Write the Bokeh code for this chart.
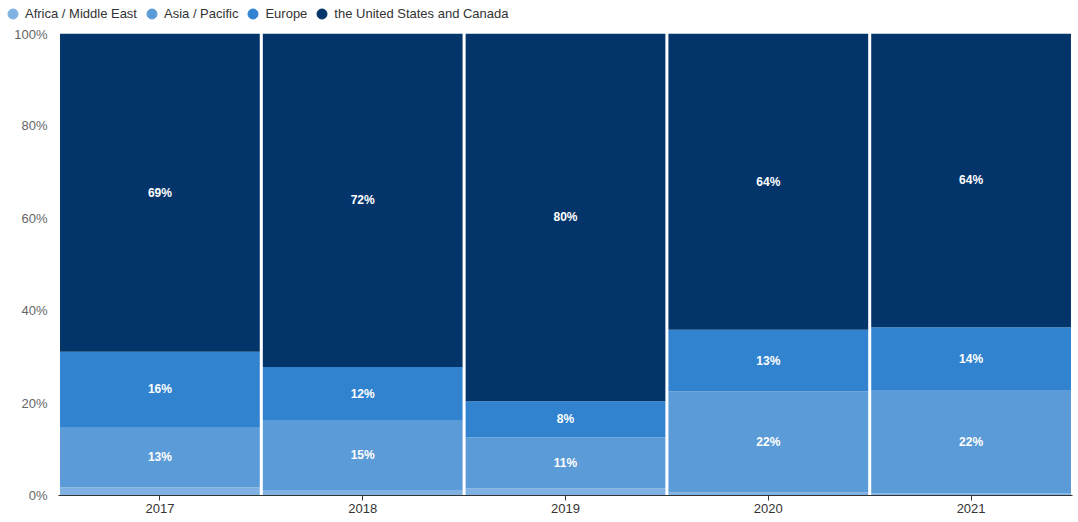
from bokeh.plotting import figure
from bokeh.models import (ColumnDataSource, Legend, LegendItem, FactorRange,
                          FixedTicker, CustomJSTickFormatter, LabelSet, Range1d)
from bokeh.layouts import column
from bokeh.core.properties import value
from bokeh.embed import file_html
from bokeh.resources import INLINE

years = ["2017", "2018", "2019", "2020", "2021"]
africa = [1.8, 1.2, 1.5, 0.7, 0.5]
asia = [13.0, 15.0, 11.1, 21.8, 22.2]
europe = [16.3, 11.6, 7.8, 13.4, 13.7]
us = [68.9, 72.2, 79.6, 64.1, 63.6]
series_names = ["Africa / Middle East", "Asia / Pacific", "Europe",
                "the United States and Canada"]
colors = ["#7fb2e2", "#5b9bd7", "#3183d0", "#03356a"]
y_ticks = [0, 20, 40, 60, 80, 100]

keys = ["africa", "asia", "europe", "us"]
raw = {"africa": africa, "asia": asia, "europe": europe, "us": us}
totals = [sum(raw[k][i] for k in keys) for i in range(len(years))]
data = {"year": years}
for k in keys:
    data[k] = [raw[k][i] / totals[i] * 100 for i in range(len(years))]
src = ColumnDataSource(data)

FONT = "Liberation Sans"

# ---- legend strip ----
lg = figure(width=1076, height=26, output_backend="svg",
            toolbar_location=None, x_range=Range1d(0, 1), y_range=Range1d(0, 1),
            min_border_left=0, min_border_right=0, min_border_top=0,
            min_border_bottom=0)
lg.frame_align = False
lg.axis.visible = False
lg.grid.visible = False
lg.outline_line_color = None
items = []
for name, c in zip(series_names, colors):
    r = lg.scatter(x=[-5], y=[-5], marker="circle", size=10, fill_color=c,
                   line_color=c)
    items.append(LegendItem(label=name, renderers=[r]))
legend = Legend(items=items, orientation="horizontal", location=(0, 0),
                label_text_font=FONT, label_text_font_size="13px",
                label_text_color="#333333", glyph_width=25, glyph_height=25,
                label_height=14, label_standoff=0, spacing=2, padding=0,
                margin=0, border_line_color=None, background_fill_alpha=0)
lg.add_layout(legend, "center")

# ---- main chart ----
p = figure(x_range=FactorRange(factors=years, range_padding=0),
           y_range=(0, 100), width=1076, height=494,
           output_backend="svg", toolbar_location=None,
           min_border_left=58, min_border_right=4, min_border_top=7,
           min_border_bottom=25)
p.frame_align = False
p.outline_line_color = None
p.xgrid.grid_line_color = None
p.ygrid.grid_line_color = None

p.vbar_stack(keys, x="year", width=0.985, color=colors, line_color=None,
             source=src)

lx, ly, lt = [], [], []
for i, yr in enumerate(years):
    base = 0.0
    for k in keys:
        v = data[k][i]
        if v >= 5:
            lx.append(yr)
            ly.append(base + v / 2)
            lt.append(f"{round(v)}%")
        base += v
lsrc = ColumnDataSource(dict(x=lx, y=ly, t=lt))
p.add_layout(LabelSet(x="x", y="y", text="t", source=lsrc,
                      text_color="white", text_align="center",
                      text_baseline="middle", text_font_size="12px",
                      text_font_style="bold", text_font=value(FONT)))

p.yaxis.ticker = FixedTicker(ticks=y_ticks)
p.yaxis.formatter = CustomJSTickFormatter(code="return tick + '%';")
p.yaxis.axis_line_color = None
p.yaxis.major_tick_line_color = None
p.yaxis.minor_tick_line_color = None
p.yaxis.major_tick_out = 0
p.yaxis.major_tick_in = 0
p.yaxis.major_label_standoff = 11
p.yaxis.major_label_text_font = FONT
p.yaxis.major_label_text_font_size = "13px"
p.yaxis.major_label_text_color = "#666666"

p.xaxis.axis_line_color = "#333333"
p.xaxis.major_tick_line_color = "#333333"
p.xaxis.major_tick_out = 5
p.xaxis.major_tick_in = 0
p.xaxis.major_label_standoff = 3
p.xaxis.major_label_text_font = FONT
p.xaxis.major_label_text_font_size = "13px"
p.xaxis.major_label_text_color = "#333333"

layout = column(lg, p, spacing=0)
open("out.html", "w").write(file_html(layout, INLINE))
